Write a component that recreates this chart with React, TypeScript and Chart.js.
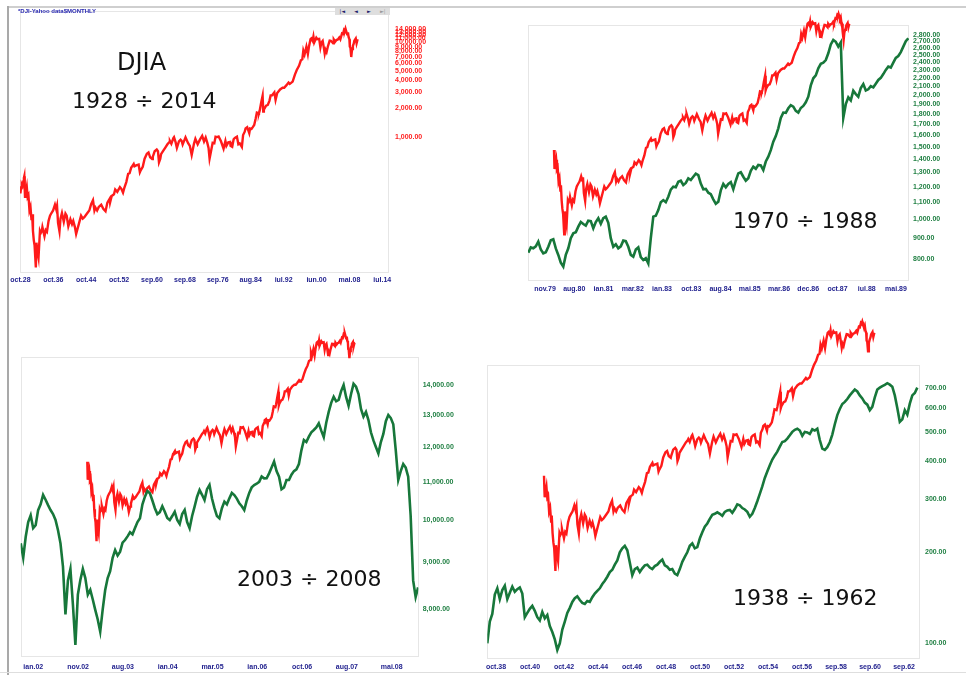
import React, { useEffect, useRef } from 'react';
import { Chart, registerables } from 'chart.js';

Chart.register(...registerables);

// DJIA 1928-2010, [year, close] (red curve, log scale)
const djiaHistory: [number, number][] = [
  [1928.75, 250], [1928.92, 290], [1929.1, 310], [1929.25, 300], [1929.45, 335], [1929.6, 365], [1929.7, 381],
  [1929.8, 275], [1929.87, 230], [1930.0, 250], [1930.3, 294], [1930.5, 230], [1930.7, 240], [1930.95, 165],
  [1931.2, 180], [1931.45, 130], [1931.6, 150], [1931.8, 100], [1932.0, 80], [1932.2, 70], [1932.5, 41],
  [1932.65, 75], [1932.9, 60], [1933.15, 52], [1933.5, 100], [1933.7, 95], [1933.95, 100], [1934.1, 110],
  [1934.6, 88], [1934.9, 102], [1935.2, 98], [1935.6, 128], [1935.95, 145], [1936.3, 155], [1936.7, 165],
  [1937.15, 190], [1937.45, 170], [1937.65, 185], [1937.9, 122], [1938.25, 99], [1938.5, 135], [1938.85, 155],
  [1939.3, 125], [1939.7, 153], [1940.0, 145], [1940.4, 112], [1940.9, 133], [1941.3, 118], [1941.6, 128],
  [1942.0, 110], [1942.3, 93], [1942.7, 108], [1942.95, 118], [1943.5, 145], [1943.9, 135], [1944.3, 140],
  [1944.9, 152], [1945.5, 165], [1945.95, 192], [1946.4, 212], [1946.75, 165], [1947.0, 177], [1947.4, 165],
  [1947.8, 180], [1948.4, 190], [1948.9, 172], [1949.45, 162], [1949.9, 200], [1950.45, 220], [1950.55, 200],
  [1950.95, 235], [1951.5, 245], [1951.8, 275], [1952.3, 260], [1952.95, 292], [1953.3, 280], [1953.7, 255],
  [1954.0, 285], [1954.5, 330], [1954.95, 404], [1955.3, 410], [1955.7, 470], [1955.95, 488], [1956.3, 515],
  [1956.5, 485], [1956.9, 495], [1957.5, 505], [1957.8, 420], [1958.0, 440], [1958.5, 480], [1958.95, 584],
  [1959.5, 660], [1959.9, 680], [1960.3, 605], [1960.8, 580], [1960.95, 615], [1961.4, 700], [1961.9, 731],
  [1962.2, 700], [1962.45, 535], [1962.75, 580], [1962.95, 652], [1963.5, 710], [1963.95, 762], [1964.5, 830],
  [1964.95, 874], [1965.1, 900], [1965.45, 840], [1965.95, 969], [1966.1, 990], [1966.5, 870], [1966.8, 760],
  [1967.3, 890], [1967.7, 930], [1967.95, 905], [1968.2, 825], [1968.9, 985], [1969.5, 860], [1969.95, 800],
  [1970.4, 640], [1970.95, 840], [1971.3, 950], [1971.85, 830], [1972.4, 930], [1972.95, 1020], [1973.4, 890],
  [1973.8, 980], [1974.2, 860], [1974.5, 760], [1974.75, 585], [1975.1, 700], [1975.5, 860], [1975.9, 850],
  [1976.2, 1000], [1976.6, 990], [1976.95, 1005], [1977.5, 900], [1978.15, 745], [1978.6, 900], [1978.85, 800],
  [1979.3, 870], [1979.75, 880], [1979.85, 800], [1980.25, 780], [1980.6, 940], [1980.9, 970], [1981.4, 1000],
  [1981.75, 830], [1982.1, 850], [1982.6, 780], [1982.9, 1040], [1983.3, 1130], [1983.5, 1220], [1983.9, 1260],
  [1984.4, 1090], [1984.6, 1220], [1984.95, 1210], [1985.3, 1270], [1985.6, 1330], [1985.95, 1550], [1986.25, 1800],
  [1986.6, 1780], [1986.75, 1770], [1986.95, 1900], [1987.3, 2300], [1987.65, 2722], [1987.8, 1850], [1987.95, 1940],
  [1988.5, 2130], [1988.9, 2170], [1989.3, 2400], [1989.6, 2740], [1989.95, 2750], [1990.5, 2950], [1990.8, 2450],
  [1991.2, 2900], [1991.9, 3170], [1992.5, 3300], [1992.9, 3300], [1993.4, 3500], [1993.95, 3750], [1994.25, 3630],
  [1994.5, 3700], [1994.95, 3840], [1995.5, 4550], [1995.95, 5100], [1996.5, 5650], [1996.95, 6450], [1997.3, 6600],
  [1997.55, 8200], [1997.85, 7440], [1998.3, 9000], [1998.65, 7540], [1998.95, 9180], [1999.3, 10800], [1999.5, 11000],
  [1999.8, 10400], [2000.0, 11500], [2000.2, 10000], [2000.7, 11200], [2000.95, 10800], [2001.4, 10900], [2001.7, 8850],
  [2001.95, 10000], [2002.25, 10400], [2002.55, 8700], [2002.75, 7600], [2002.95, 8350], [2003.2, 7900], [2003.5, 9000],
  [2003.95, 10450], [2004.25, 10400], [2004.8, 9800], [2004.95, 10780], [2005.3, 10200], [2005.6, 10600], [2005.95, 10750],
  [2006.3, 11300], [2006.55, 10800], [2006.95, 12460], [2007.2, 12300], [2007.45, 13600], [2007.65, 13300], [2007.8, 14000],
  [2007.95, 13300], [2008.2, 12200], [2008.4, 12800], [2008.55, 11400], [2008.75, 10800], [2008.85, 9000], [2009.0, 8800],
  [2009.2, 7000], [2009.4, 8500], [2009.6, 9200], [2009.8, 9700], [2009.95, 10400], [2010.3, 11000], [2010.5, 9800],
  [2010.75, 10800],
];

// Panel 1 (DJIA 1928-2014)
const p1Labels = ['oct.28', 'oct.36', 'oct.44', 'oct.52', 'sep.60', 'sep.68', 'sep.76', 'aug.84', 'iul.92', 'iun.00', 'mai.08', 'iul.14'];
const p1TickYears = [1928.75, 1936.75, 1944.75, 1952.75, 1960.75, 1968.75, 1976.75, 1984.75, 1992.75, 2000.75, 2008.75, 2016.75];
const p1Ticks = [1000, 2000, 3000, 4000, 5000, 6000, 7000, 8000, 9000, 10000, 11000, 12000, 13000, 14000];

// Panel 2 (1979-1989), evenly spaced samples
const p2Labels = ['nov.79', 'aug.80', 'ian.81', 'mar.82', 'ian.83', 'oct.83', 'aug.84', 'mai.85', 'mar.86', 'dec.86', 'oct.87', 'iul.88', 'mai.89'];
const p2Ticks = [800, 900, 1000, 1100, 1200, 1300, 1400, 1500, 1600, 1700, 1800, 1900, 2000, 2100, 2200, 2300, 2400, 2500, 2600, 2700, 2800];
const p2Green = [
  830, 855, 851, 860, 883, 845, 827, 832, 858, 890, 895, 850, 820, 785, 768, 820, 851, 900, 925, 930,
  960, 985, 974, 965, 992, 990, 951, 985, 1006, 975, 1006, 1015, 981, 900, 858, 870, 851, 860, 888, 885,
  858, 820, 812, 845, 855, 810, 797, 805, 782, 900, 1015, 1020, 1053, 1100, 1113, 1100, 1134, 1180, 1199, 1195,
  1233, 1240, 1211, 1225, 1257, 1245, 1268, 1290, 1280, 1220, 1182, 1185, 1160, 1150, 1118, 1090, 1103, 1175, 1218, 1195,
  1218, 1230, 1182, 1240, 1292, 1300, 1268, 1240, 1257, 1310, 1341, 1325, 1354, 1350, 1316, 1380, 1418, 1470, 1541, 1590,
  1661, 1760, 1813, 1810, 1857, 1890, 1874, 1830, 1813, 1860, 1881, 1920, 1981, 2110, 2195, 2230, 2321, 2380, 2395, 2430,
  2523, 2650, 2717, 2690, 2620, 2680, 1760, 1900, 1974, 1940, 2048, 2010, 1981, 2080, 2126, 2050, 2064, 2100, 2087, 2130,
  2175, 2200, 2247, 2300, 2342, 2330, 2395, 2460, 2485, 2540, 2618, 2700, 2744,
];

// Panel 3 (2002-2008), evenly spaced samples
const p3Labels = ['ian.02', 'nov.02', 'aug.03', 'ian.04', 'mar.05', 'ian.06', 'oct.06', 'aug.07', 'mai.08'];
const p3Ticks = [8000, 9000, 10000, 11000, 12000, 13000, 14000];
const p3Green = [
  9434, 9100, 9591, 9950, 10120, 9800, 9870, 10250, 10400, 10650, 10520, 10380, 10252, 10150, 10000, 9750, 9434, 8900, 7900, 8600,
  8850, 8100, 7320, 8300, 8608, 8850, 8650, 8300, 8400, 8200, 7990, 7800, 7566, 8000, 8396, 8650, 8800, 9100, 9278, 9150,
  9240, 9450, 9512, 9600, 9700, 9650, 9800, 9950, 10042, 10400, 10600, 10750, 10689, 10500, 10300, 10150, 10200, 10350, 10210, 10050,
  10000, 10100, 10210, 10000, 9900, 10150, 10252, 9950, 9795, 10100, 10338, 10600, 10778, 10650, 10513, 10800, 10914, 10550, 10300, 10100,
  10042, 10300, 10470, 10400, 10556, 10700, 10644, 10550, 10425, 10350, 10252, 10500, 10700, 10850, 10914, 10950, 11000, 11150, 11097, 11100,
  11236, 11400, 11570, 11300, 11142, 10800, 10850, 11050, 11051, 11200, 11300, 11350, 11500, 11900, 12212, 12150, 12314, 12450, 12520, 12600,
  12731, 12500, 12300, 12750, 13100, 13400, 13603, 13450, 13496, 13800, 14013, 13600, 13300, 13700, 14050, 13950, 13700, 13200, 12943, 13100,
  12837, 12450, 12200, 12000, 11810, 12150, 12400, 12800, 13000, 12900, 12700, 11900, 11051, 11300, 11500, 11400, 11142, 10100, 8600, 8250,
  8450,
];

// Panel 4 (1938-1962), evenly spaced samples
const p4Labels = ['oct.38', 'oct.40', 'oct.42', 'oct.44', 'oct.46', 'oct.48', 'oct.50', 'oct.52', 'oct.54', 'oct.56', 'sep.58', 'sep.60', 'sep.62'];
const p4Ticks = [100, 200, 300, 400, 500, 600, 700];
const p4Green = [
  100, 118, 125, 145, 152, 140, 150, 155, 140, 147, 154, 148, 151, 153, 146, 122, 126, 130, 133, 128,
  122, 119, 127, 121, 124, 114, 109, 103, 95, 100, 111, 118, 126, 131, 137, 141, 143, 139, 136, 135,
  138, 137, 142, 146, 149, 152, 157, 161, 166, 172, 175, 182, 188, 200, 206, 210, 203, 185, 168, 176,
  178, 172, 177, 181, 182, 178, 176, 180, 182, 186, 189, 181, 179, 175, 176, 170, 168, 176, 186, 193,
  200, 210, 214, 206, 208, 222, 233, 243, 249, 258, 266, 268, 271, 268, 264, 272, 275, 276, 270, 278,
  288, 286, 280, 277, 272, 262, 268, 280, 295, 312, 330, 352, 370, 388, 405, 418, 430, 447, 463, 466,
  475, 487, 500, 508, 512, 505, 485, 500, 498, 492, 510, 505, 512, 470, 440, 436, 445, 462, 490, 530,
  568, 595, 618, 628, 642, 660, 675, 690, 680, 660, 645, 625, 615, 590, 605, 650, 690, 700, 708, 715,
  724, 716, 705, 660, 600, 540, 550, 590, 570, 620, 660, 672, 700,
];

const RED = '#ff1a1a';
const GREEN = '#17773a';
const NAVY = '#1d1d8c';
const LABEL_GREEN = '#1f7f42';
const TICK_FONT = { family: "'Liberation Sans', Arial, sans-serif", size: 7, weight: 'bold' as const };

const fmt2 = (v: number) => v.toLocaleString('en-US', { minimumFractionDigits: 2, maximumFractionDigits: 2 });

const framePlugin = {
  id: 'frame',
  beforeDatasetsDraw(chart: any) {
    const { ctx, chartArea: a } = chart;
    ctx.save();
    ctx.strokeStyle = '#e6e6e6';
    ctx.lineWidth = 1;
    ctx.strokeRect(Math.round(a.left) + 0.5, Math.round(a.top) + 0.5, Math.round(a.right - a.left) - 1, Math.round(a.bottom - a.top) - 1);
    ctx.restore();
  },
};

type PanelCfg = {
  left: number; top: number; width: number; height: number;
  padding: { left: number; top: number; right: number; bottom: number };
  yW: number; xH: number; xPad: number; yPad: number;
  xMin: number; xMax: number; xTicks: number[]; xLabels: string[];
  yMin: number; yMax: number; yTicks: number[]; yColor: string;
  green?: { values: number[]; start: number; end: number };
  redOverlay?: { xMin: number; xMax: number; yMin: number; yMax: number };
};

function Panel({ cfg }: { cfg: PanelCfg }) {
  const ref = useRef<HTMLCanvasElement>(null);
  useEffect(() => {
    if (!ref.current) return;
    const datasets: any[] = [];
    if (cfg.green) {
      const g = cfg.green;
      const n = g.values.length;
      datasets.push({
        data: g.values.map((v, i) => ({ x: g.start + ((g.end - g.start) * i) / (n - 1), y: v })),
        borderColor: GREEN, borderWidth: 2.6, pointRadius: 0, tension: 0,
        xAxisID: 'x', yAxisID: 'y',
      });
    }
    const redSrc = cfg.redOverlay ? djiaHistory.filter((d) => d[0] >= 1929.7) : djiaHistory;
    datasets.push({
      data: redSrc.map((d) => ({ x: d[0], y: d[1] })),
      borderColor: RED, borderWidth: 2.4, pointRadius: 0, tension: 0,
      xAxisID: cfg.redOverlay ? 'xr' : 'x', yAxisID: cfg.redOverlay ? 'yr' : 'y',
      clip: cfg.redOverlay ? false : undefined,
    });

    const scales: any = {
      x: {
        type: 'linear', position: 'bottom', min: cfg.xMin, max: cfg.xMax,
        afterBuildTicks: (s: any) => { s.ticks = cfg.xTicks.map((v) => ({ value: v })); },
        afterFit: (s: any) => { s.height = cfg.xH; s.paddingLeft = 0; s.paddingRight = 0; },
        ticks: {
          autoSkip: false, maxRotation: 0, minRotation: 0, padding: cfg.xPad, color: NAVY, font: TICK_FONT,
          callback: (_v: any, i: number) => cfg.xLabels[i],
        },
        grid: { display: false, drawTicks: false }, border: { display: false },
      },
      y: {
        type: 'logarithmic', position: 'right', min: cfg.yMin, max: cfg.yMax,
        afterBuildTicks: (s: any) => { s.ticks = cfg.yTicks.map((v) => ({ value: v })); },
        afterFit: (s: any) => { s.width = cfg.yW; s.paddingTop = 0; s.paddingBottom = 0; },
        ticks: {
          autoSkip: false, padding: cfg.yPad, color: cfg.yColor, font: TICK_FONT,
          callback: (v: any) => fmt2(Number(v)),
        },
        grid: { display: false, drawTicks: false }, border: { display: false },
      },
    };
    if (cfg.redOverlay) {
      scales.xr = { type: 'linear', display: false, min: cfg.redOverlay.xMin, max: cfg.redOverlay.xMax };
      scales.yr = { type: 'logarithmic', display: false, min: cfg.redOverlay.yMin, max: cfg.redOverlay.yMax };
    }

    const chart = new Chart(ref.current, {
      type: 'line',
      data: { datasets },
      options: {
        animation: false,
        responsive: false,
        maintainAspectRatio: false,
        events: [],
        layout: { padding: cfg.padding },
        plugins: { legend: { display: false }, tooltip: { enabled: false } },
        scales,
      },
      plugins: [framePlugin],
    } as any);
    return () => chart.destroy();
  }, [cfg]);
  return (
    <canvas
      ref={ref}
      width={cfg.width}
      height={cfg.height}
      style={{ position: 'absolute', left: cfg.left, top: cfg.top, width: cfg.width, height: cfg.height, display: 'block' }}
    />
  );
}

const panel1: PanelCfg = {
  left: 0, top: 0, width: 483, height: 300,
  padding: { left: 20, top: 11, right: 34, bottom: 7.3 },
  yW: 60, xH: 20, xPad: 3, yPad: 6,
  xMin: 1928.65, xMax: 2018.38, xTicks: p1TickYears, xLabels: p1Labels,
  yMin: 36.1, yMax: 21530, yTicks: p1Ticks, yColor: '#ff2020',
};

const panel2: PanelCfg = {
  left: 483, top: 0, width: 483, height: 300,
  padding: { left: 45, top: 25, right: 7, bottom: 3 },
  yW: 50, xH: 16, xPad: 3.5, yPad: 4,
  xMin: -0.581, xMax: 12.444, xTicks: p2Labels.map((_, i) => i), xLabels: p2Labels,
  yMin: 709, yMax: 2954, yTicks: p2Ticks, yColor: LABEL_GREEN,
  green: { values: p2Green, start: -0.571, end: 12.42 },
  redOverlay: { xMin: 1922.56, xMax: 2027.14, yMin: 11.89, yMax: 10420 },
};

const panel3: PanelCfg = {
  left: 0, top: 300, width: 483, height: 375,
  padding: { left: 20.7, top: 56.7, right: 9.7, bottom: 2.3 },
  yW: 55, xH: 16, xPad: 6.4, yPad: 4.4,
  xMin: -0.281, xMax: 8.594, xTicks: p3Labels.map((_, i) => i), xLabels: p3Labels,
  yMin: 7108, yMax: 15036, yTicks: p3Ticks, yColor: LABEL_GREEN,
  green: { values: p3Green, start: -0.28, end: 8.59 },
  redOverlay: { xMin: 1909.5, xMax: 2030.1, yMin: 1.596, yMax: 7269 },
};

const panel4: PanelCfg = {
  left: 483, top: 300, width: 483, height: 375,
  padding: { left: 4.3, top: 65, right: 5.3, bottom: 1.7 },
  yW: 40, xH: 14, xPad: 3.8, yPad: 4.3,
  xMin: -0.256, xMax: 12.49, xTicks: p4Labels.map((_, i) => i), xLabels: p4Labels,
  yMin: 88.55, yMax: 831.8, yTicks: p4Ticks, yColor: LABEL_GREEN,
  green: { values: p4Green, start: -0.256, end: 12.39 },
  redOverlay: { xMin: 1915.79, xMax: 2022.12, yMin: 5.19, yMax: 5082 },
};

const bigText: React.CSSProperties = {
  position: 'absolute', fontFamily: "'DejaVu Sans', Verdana, sans-serif", fontSize: 22, lineHeight: '22px',
  color: '#111', whiteSpace: 'nowrap',
};

export default function App() {
  return (
    <div style={{ position: 'absolute', left: 0, top: 0, width: 966, height: 675, background: '#fff', overflow: 'hidden' }}>
      <Panel cfg={panel1} />
      <Panel cfg={panel2} />
      <Panel cfg={panel3} />
      <Panel cfg={panel4} />

      {/* outer frame lines */}
      <div style={{ position: 'absolute', left: 7, top: 6, width: 959, height: 2, background: '#cfcfcf' }} />
      <div style={{ position: 'absolute', left: 7, top: 6, width: 2, height: 669, background: '#a9a9a9' }} />
      <div style={{ position: 'absolute', left: 0, top: 672, width: 966, height: 1, background: '#dedede' }} />

      {/* panel 1 header */}
      <div style={{ position: 'absolute', left: 18, top: 8, fontFamily: "'Liberation Sans', Arial, sans-serif", fontSize: 6, fontWeight: 'bold', color: '#2727b0', whiteSpace: 'nowrap' }}>
        *DJI-Yahoo data$MONTHLY
      </div>
      <div style={{ position: 'absolute', left: 335, top: 8, width: 55, height: 7, background: '#dedede', display: 'flex', justifyContent: 'space-around', alignItems: 'center', fontFamily: "'DejaVu Sans', sans-serif", fontSize: 5, lineHeight: '7px', color: '#1d1d6a' }}>
        <span>|◄</span><span>◄</span><span>►</span><span style={{ color: '#999' }}>►|</span>
      </div>

      <div style={{ ...bigText, left: 117, top: 50, fontSize: 24, lineHeight: '24px' }}>DJIA</div>
      <div style={{ ...bigText, left: 72, top: 89.5 }}>1928 ÷ 2014</div>
      <div style={{ ...bigText, left: 733, top: 209.5 }}>1970 ÷ 1988</div>
      <div style={{ ...bigText, left: 237, top: 567.6 }}>2003 ÷ 2008</div>
      <div style={{ ...bigText, left: 733, top: 587 }}>1938 ÷ 1962</div>
    </div>
  );
}
